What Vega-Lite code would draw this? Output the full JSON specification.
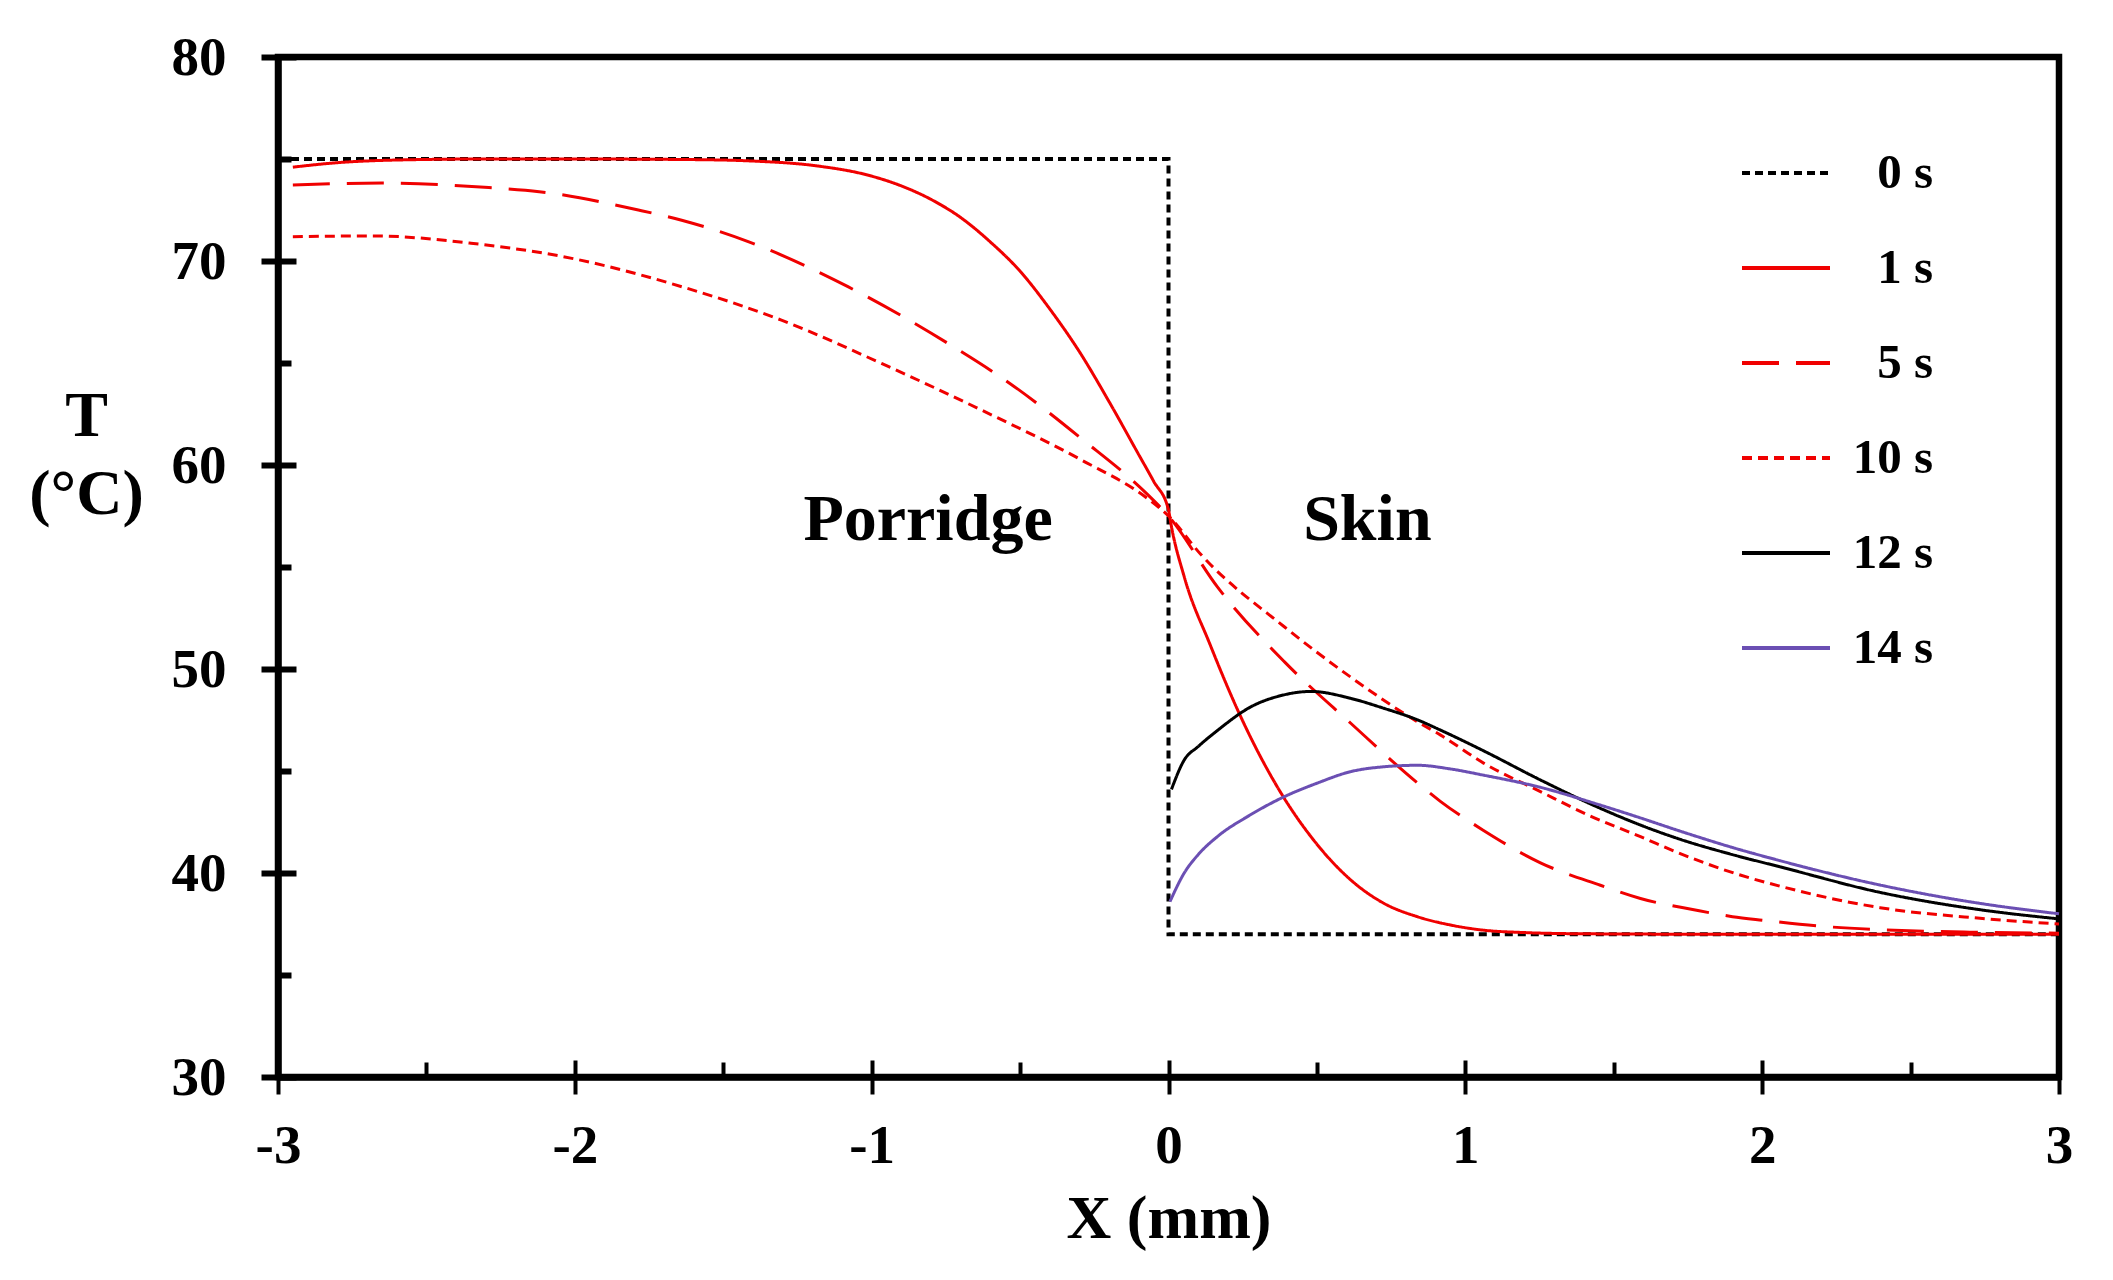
{
  "$schema": "https://vega.github.io/schema/vega-lite/v6.json",
  "width": 1781,
  "height": 1020,
  "autosize": {"type": "none"},
  "padding": {"left": 278, "top": 57, "right": 54, "bottom": 203},
  "background": "white",
  "config": {
    "view": {"stroke": "black", "strokeWidth": 6.5},
    "font": "Liberation Serif",
    "axis": {
      "grid": false,
      "domainColor": "black",
      "domainWidth": 6.5,
      "tickColor": "black",
      "labelColor": "black",
      "titleColor": "black",
      "labelFont": "Liberation Serif",
      "titleFont": "Liberation Serif",
      "labelFontWeight": "bold",
      "titleFontWeight": "bold"
    },
    "legend": {
      "orient": "none",
      "legendX": 1462,
      "legendY": 70,
      "symbolType": "stroke",
      "symbolSize": 7744,
      "symbolStrokeWidth": 4,
      "labelFont": "Liberation Serif",
      "labelFontWeight": "bold",
      "labelFontSize": 49,
      "labelColor": "black",
      "labelAlign": "right",
      "labelOffset": 101,
      "rowPadding": 24,
      "padding": 0,
      "title": null
    }
  },
  "datasets": {
    "step": [
      {"series": "0 s", "i": 1, "x": -3, "T": 75},
      {"series": "0 s", "i": 2, "x": 0, "T": 75},
      {"series": "0 s", "i": 3, "x": 0, "T": 37},
      {"series": "0 s", "i": 4, "x": 3, "T": 37}
    ],
    "curves": [
      {"series": "1 s", "x": -2.95, "T": 74.6},
      {"series": "1 s", "x": -2.8, "T": 74.82},
      {"series": "1 s", "x": -2.6, "T": 74.95},
      {"series": "1 s", "x": -2.3, "T": 75},
      {"series": "1 s", "x": -2.0, "T": 75},
      {"series": "1 s", "x": -1.6, "T": 74.97},
      {"series": "1 s", "x": -1.4, "T": 74.9},
      {"series": "1 s", "x": -1.2, "T": 74.69},
      {"series": "1 s", "x": -1.0, "T": 74.16},
      {"series": "1 s", "x": -0.9, "T": 73.68},
      {"series": "1 s", "x": -0.8, "T": 73.02},
      {"series": "1 s", "x": -0.7, "T": 72.13},
      {"series": "1 s", "x": -0.6, "T": 70.93},
      {"series": "1 s", "x": -0.5, "T": 69.5},
      {"series": "1 s", "x": -0.4, "T": 67.65},
      {"series": "1 s", "x": -0.3, "T": 65.55},
      {"series": "1 s", "x": -0.2, "T": 63.1},
      {"series": "1 s", "x": -0.1, "T": 60.5},
      {"series": "1 s", "x": -0.05, "T": 59.2},
      {"series": "1 s", "x": 0, "T": 57.8},
      {"series": "1 s", "x": 0.0084, "T": 57.1},
      {"series": "1 s", "x": 0.053, "T": 54.52},
      {"series": "1 s", "x": 0.14, "T": 51.2},
      {"series": "1 s", "x": 0.238, "T": 47.83},
      {"series": "1 s", "x": 0.39, "T": 43.66},
      {"series": "1 s", "x": 0.48, "T": 41.78},
      {"series": "1 s", "x": 0.614, "T": 39.66},
      {"series": "1 s", "x": 0.726, "T": 38.51},
      {"series": "1 s", "x": 0.838, "T": 37.86},
      {"series": "1 s", "x": 0.95, "T": 37.45},
      {"series": "1 s", "x": 1.06, "T": 37.2},
      {"series": "1 s", "x": 1.2, "T": 37.08},
      {"series": "1 s", "x": 1.4, "T": 37.02},
      {"series": "1 s", "x": 1.8, "T": 37},
      {"series": "1 s", "x": 3, "T": 37},
      {"series": "5 s", "x": -2.95, "T": 73.73},
      {"series": "5 s", "x": -2.65, "T": 73.82},
      {"series": "5 s", "x": -2.29, "T": 73.6},
      {"series": "5 s", "x": -2.12, "T": 73.4},
      {"series": "5 s", "x": -1.786, "T": 72.5},
      {"series": "5 s", "x": -1.64, "T": 72.0},
      {"series": "5 s", "x": -1.416, "T": 70.95},
      {"series": "5 s", "x": -1.08, "T": 68.74},
      {"series": "5 s", "x": -0.743, "T": 65.96},
      {"series": "5 s", "x": -0.519, "T": 63.84},
      {"series": "5 s", "x": -0.294, "T": 61.3},
      {"series": "5 s", "x": -0.07, "T": 58.55},
      {"series": "5 s", "x": 0, "T": 57.5},
      {"series": "5 s", "x": 0.166, "T": 54.0},
      {"series": "5 s", "x": 0.39, "T": 50.36},
      {"series": "5 s", "x": 0.614, "T": 47.34},
      {"series": "5 s", "x": 0.84, "T": 44.4},
      {"series": "5 s", "x": 0.917, "T": 43.5},
      {"series": "5 s", "x": 1.06, "T": 42.1},
      {"series": "5 s", "x": 1.253, "T": 40.5},
      {"series": "5 s", "x": 1.455, "T": 39.4},
      {"series": "5 s", "x": 1.59, "T": 38.75},
      {"series": "5 s", "x": 1.77, "T": 38.2},
      {"series": "5 s", "x": 1.9, "T": 37.86},
      {"series": "5 s", "x": 2.005, "T": 37.68},
      {"series": "5 s", "x": 2.19, "T": 37.4},
      {"series": "5 s", "x": 2.4, "T": 37.22},
      {"series": "5 s", "x": 2.7, "T": 37.1},
      {"series": "5 s", "x": 3, "T": 37.05},
      {"series": "10 s", "x": -2.95, "T": 71.19},
      {"series": "10 s", "x": -2.68, "T": 71.23},
      {"series": "10 s", "x": -2.35, "T": 70.87},
      {"series": "10 s", "x": -2.01, "T": 70.13},
      {"series": "10 s", "x": -1.64, "T": 68.74},
      {"series": "10 s", "x": -1.304, "T": 67.1},
      {"series": "10 s", "x": -0.967, "T": 64.98},
      {"series": "10 s", "x": -0.631, "T": 62.7},
      {"series": "10 s", "x": -0.294, "T": 60.25},
      {"series": "10 s", "x": -0.07, "T": 58.35},
      {"series": "10 s", "x": 0, "T": 57.5},
      {"series": "10 s", "x": 0.11, "T": 55.6},
      {"series": "10 s", "x": 0.39, "T": 52.07},
      {"series": "10 s", "x": 0.614, "T": 49.6},
      {"series": "10 s", "x": 0.84, "T": 47.4},
      {"series": "10 s", "x": 0.917, "T": 46.76},
      {"series": "10 s", "x": 1.06, "T": 45.4},
      {"series": "10 s", "x": 1.253, "T": 43.99},
      {"series": "10 s", "x": 1.42, "T": 42.8},
      {"series": "10 s", "x": 1.59, "T": 41.78},
      {"series": "10 s", "x": 1.724, "T": 40.95},
      {"series": "10 s", "x": 1.926, "T": 39.9},
      {"series": "10 s", "x": 2.061, "T": 39.35},
      {"series": "10 s", "x": 2.397, "T": 38.3},
      {"series": "10 s", "x": 2.734, "T": 37.78},
      {"series": "10 s", "x": 3, "T": 37.5},
      {"series": "12 s", "x": 0.01, "T": 44.1},
      {"series": "12 s", "x": 0.053, "T": 45.54},
      {"series": "12 s", "x": 0.1, "T": 46.2},
      {"series": "12 s", "x": 0.166, "T": 47.0},
      {"series": "12 s", "x": 0.278, "T": 48.15},
      {"series": "12 s", "x": 0.38, "T": 48.7},
      {"series": "12 s", "x": 0.48, "T": 48.9},
      {"series": "12 s", "x": 0.614, "T": 48.56},
      {"series": "12 s", "x": 0.72, "T": 48.1},
      {"series": "12 s", "x": 0.84, "T": 47.5},
      {"series": "12 s", "x": 0.917, "T": 47.0},
      {"series": "12 s", "x": 1.06, "T": 46.0},
      {"series": "12 s", "x": 1.253, "T": 44.56},
      {"series": "12 s", "x": 1.45, "T": 43.2},
      {"series": "12 s", "x": 1.59, "T": 42.35},
      {"series": "12 s", "x": 1.724, "T": 41.65},
      {"series": "12 s", "x": 1.9, "T": 40.9},
      {"series": "12 s", "x": 2.061, "T": 40.3},
      {"series": "12 s", "x": 2.397, "T": 39.05},
      {"series": "12 s", "x": 2.734, "T": 38.2},
      {"series": "12 s", "x": 3, "T": 37.75},
      {"series": "14 s", "x": 0.005, "T": 38.6},
      {"series": "14 s", "x": 0.053, "T": 40.0},
      {"series": "14 s", "x": 0.1, "T": 40.9},
      {"series": "14 s", "x": 0.166, "T": 41.8},
      {"series": "14 s", "x": 0.27, "T": 42.8},
      {"series": "14 s", "x": 0.39, "T": 43.74},
      {"series": "14 s", "x": 0.5, "T": 44.4},
      {"series": "14 s", "x": 0.614, "T": 44.97},
      {"series": "14 s", "x": 0.72, "T": 45.2},
      {"series": "14 s", "x": 0.84, "T": 45.28},
      {"series": "14 s", "x": 0.95, "T": 45.1},
      {"series": "14 s", "x": 1.06, "T": 44.8},
      {"series": "14 s", "x": 1.253, "T": 44.2},
      {"series": "14 s", "x": 1.45, "T": 43.35},
      {"series": "14 s", "x": 1.59, "T": 42.7},
      {"series": "14 s", "x": 1.724, "T": 42.05},
      {"series": "14 s", "x": 1.9, "T": 41.25},
      {"series": "14 s", "x": 2.061, "T": 40.6},
      {"series": "14 s", "x": 2.397, "T": 39.41},
      {"series": "14 s", "x": 2.734, "T": 38.51},
      {"series": "14 s", "x": 3, "T": 38.0}
    ],
    "notes": [
      {"x": -0.81, "T": 56.3, "label": "Porridge"},
      {"x": 0.67, "T": 56.3, "label": "Skin"}
    ]
  },
  "layer": [
    {
      "data": {"name": "step"},
      "mark": {"type": "line", "interpolate": "linear", "strokeWidth": 4},
      "encoding": {
        "x": {
          "field": "x", "type": "quantitative",
          "scale": {"domain": [-3, 3], "nice": false, "zero": false},
          "axis": {
            "orient": "bottom",
            "values": [-3, -2, -1, 0, 1, 2, 3],
            "tickSize": 17, "tickWidth": 4,
            "labelFontSize": 55, "labelPadding": 25,
            "labelFlush": false, "labelOverlap": false,
            "labelExpr": "datum.value < 0 ? '-' + abs(datum.value) : '' + datum.value",
            "title": "X (mm)", "titleFontSize": 62,
            "titleBaseline": "alphabetic", "titleY": 160
          }
        },
        "y": {
          "field": "T", "type": "quantitative",
          "scale": {"domain": [30, 80], "nice": false, "zero": false},
          "axis": {
            "orient": "left",
            "values": [30, 40, 50, 60, 70, 80],
            "tickSize": 17, "tickWidth": 6,
            "labelFontSize": 55, "labelPadding": 35,
            "title": ["T", "(°C)"], "titleAngle": 0,
            "titleX": -192, "titleY": 378,
            "titleAlign": "center", "titleBaseline": "alphabetic",
            "titleFontSize": 64, "titleLineHeight": 78
          }
        },
        "color": {
          "field": "series", "type": "nominal",
          "scale": {"domain": ["0 s", "1 s", "5 s", "10 s", "12 s", "14 s"], "range": ["#000000", "#f00000", "#f00000", "#f00000", "#000000", "#6b4fb3"]}
        },
        "strokeDash": {
          "field": "series", "type": "nominal",
          "scale": {"domain": ["0 s", "1 s", "5 s", "10 s", "12 s", "14 s"], "range": [[8, 5], [1, 0], [37, 17], [10, 6], [1, 0], [1, 0]]}
        },
        "order": {"field": "i"}
      }
    },
    {
      "data": {"name": "curves"},
      "mark": {"type": "line", "interpolate": "monotone", "strokeWidth": 3},
      "encoding": {
        "x": {
          "field": "x", "type": "quantitative",
          "scale": {"domain": [-3, 3], "nice": false, "zero": false},
          "axis": {"orient": "bottom", "values": [-2.5, -1.5, -0.5, 0.5, 1.5, 2.5], "tickSize": -15, "tickWidth": 4, "labels": false, "domain": false, "title": null}
        },
        "y": {
          "field": "T", "type": "quantitative",
          "scale": {"domain": [30, 80], "nice": false, "zero": false},
          "axis": {"orient": "left", "values": [35, 45, 55, 65, 75], "tickSize": -13, "tickWidth": 6, "labels": false, "domain": false, "title": null}
        },
        "color": {
          "field": "series", "type": "nominal",
          "scale": {"domain": ["0 s", "1 s", "5 s", "10 s", "12 s", "14 s"], "range": ["#000000", "#f00000", "#f00000", "#f00000", "#000000", "#6b4fb3"]}
        },
        "strokeDash": {
          "field": "series", "type": "nominal",
          "scale": {"domain": ["0 s", "1 s", "5 s", "10 s", "12 s", "14 s"], "range": [[8, 5], [1, 0], [37, 17], [10, 6], [1, 0], [1, 0]]}
        }
      }
    },
    {
      "data": {"name": "notes"},
      "mark": {"type": "text", "font": "Liberation Serif", "fontWeight": "bold", "fontSize": 66, "align": "center", "baseline": "alphabetic", "color": "black"},
      "encoding": {
        "x": {
          "field": "x", "type": "quantitative",
          "scale": {"domain": [-3, 3], "nice": false, "zero": false},
          "axis": {"orient": "bottom", "values": [-3, -2, -1, 0, 1, 2, 3], "tickSize": -17, "tickWidth": 4, "labels": false, "domain": false, "title": null}
        },
        "y": {
          "field": "T", "type": "quantitative",
          "scale": {"domain": [30, 80], "nice": false, "zero": false},
          "axis": {"orient": "left", "values": [30, 40, 50, 60, 70, 80], "tickSize": -18, "tickWidth": 6, "labels": false, "domain": false, "title": null}
        },
        "text": {"field": "label"}
      }
    }
  ],
  "resolve": {"axis": {"x": "independent", "y": "independent"}}
}
